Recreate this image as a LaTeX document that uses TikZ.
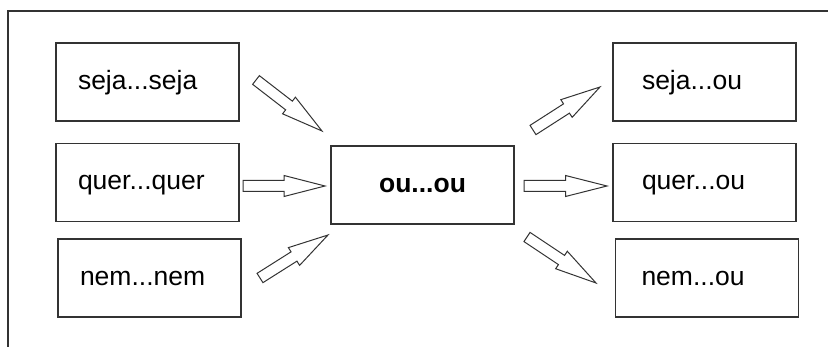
\documentclass[tikz,border=0pt]{standalone}
\usepackage{fontspec}
\setmainfont{Liberation Sans}
\usetikzlibrary{calc}
\tikzset{
	caixa/.style={draw=black!80, line width=1.5pt, minimum height=78pt, inner ysep=0pt, align=left, text height=15pt, text depth=0pt},
	seta/.style={draw=black!80, line width=1pt, fill=white, line join=miter},
}
\begin{document}
\begin{tikzpicture}[x=1pt, y=-1pt, font=\fontsize{26.5}{30}\selectfont]
			\def\sw{5.5pt}
			\def\hw{10.5pt}
			\useasboundingbox (0,0) rectangle (828,347);
			\draw[black!80, line width=1.2pt] (8,360)--(8,11)--(840,11);
			% left column
			\node[caixa, text width=139pt, inner xsep=22pt] (sejaseja) at (147.5,82) {seja...seja};
			\node[caixa, text width=139pt, inner xsep=22pt] (querquer) at (147.5,182.5) {quer...quer};
			\node[caixa, text width=139pt, inner xsep=22pt] (nemnem) at (149.5,278) {nem...nem};
			% middle
			\node[caixa, text width=139pt, inner xsep=22pt, align=center] (ouou) at (422.5,185) {\textbf{ou...ou}};
			% right column
			\node[caixa, text width=125pt, inner xsep=29pt] (sejaou) at (704.5,82) {seja...ou};
			\node[caixa, text width=125pt, inner xsep=29pt] (querou) at (704.5,182.5) {quer...ou};
			\node[caixa, text width=131pt, inner xsep=26pt] (nemou) at (707,278) {nem...ou};
			% arrows
			\coordinate (t1) at (256,80);  \coordinate (h1) at (322,131);
			\coordinate (t2) at (243,186); \coordinate (h2) at (325,186);
			\coordinate (t3) at (260,278); \coordinate (h3) at (328,235);
			\coordinate (t4) at (533,130); \coordinate (h4) at (600,87);
			\coordinate (t5) at (524,186); \coordinate (h5) at (607,186);
			\coordinate (t6) at (527,237); \coordinate (h6) at (596,283);
			\foreach \i in {1,...,6}{
				\coordinate (m) at ($(t\i)!0.5!(h\i)$);
				\draw[seta] ($(t\i)!\sw!90:(h\i)$)--($(m)!\sw!90:(h\i)$)--($(m)!\hw!90:(h\i)$)--(h\i)
					--($(m)!\hw!-90:(h\i)$)--($(m)!\sw!-90:(h\i)$)--($(t\i)!\sw!-90:(h\i)$)--cycle;
			}
\end{tikzpicture}
\end{document}
